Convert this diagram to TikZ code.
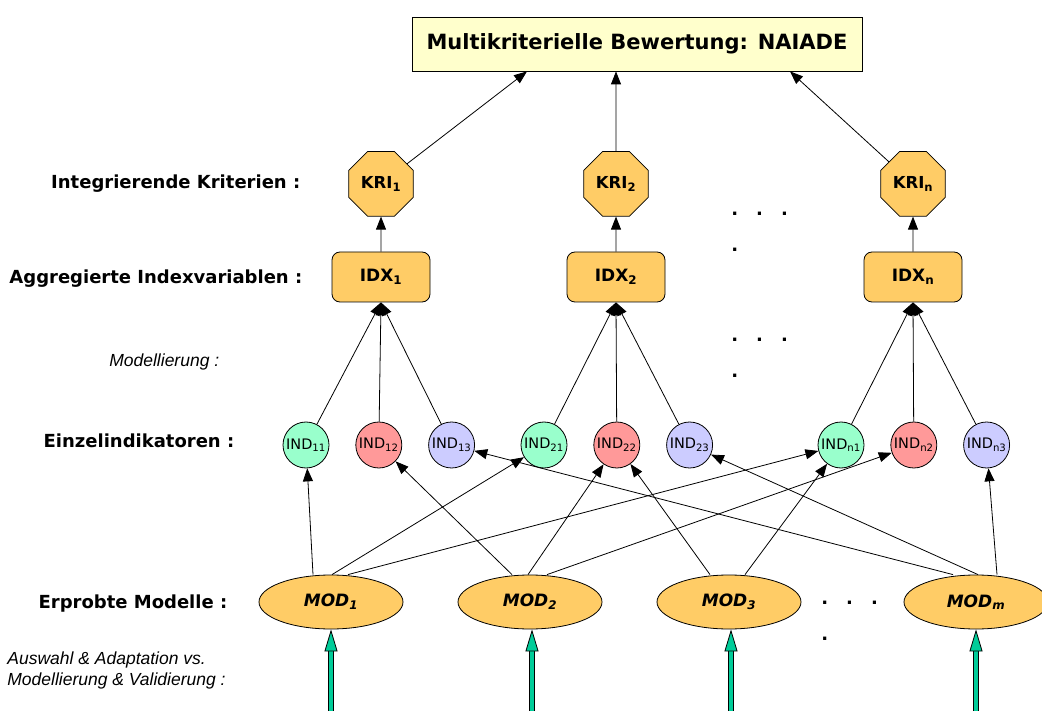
\documentclass[tikz,border=0pt]{standalone}
\usepackage{fontspec}
\setmainfont{DejaVu Sans}
\newfontfamily\notefont{Liberation Sans}
\usetikzlibrary{positioning,shapes.geometric,arrows.meta}

\definecolor{boxorange}{HTML}{FFCC66}
\definecolor{paleyellow}{HTML}{FFFFCC}
\definecolor{indgreen}{HTML}{99FFCC}
\definecolor{indred}{HTML}{FF9999}
\definecolor{indblue}{HTML}{CCCCFF}
\definecolor{feedgreen}{HTML}{00CC99}

\tikzset{
  >={Triangle[length=13pt,width=10pt]},
  topbox/.style={draw, fill=paleyellow, minimum width=450pt, minimum height=54pt, font=\bfseries\fontsize{21}{25}\selectfont},
  kri/.style={draw, fill=boxorange, regular polygon, regular polygon sides=8, minimum size=70pt, inner sep=0pt, font=\bfseries\fontsize{16.5}{19}\selectfont},
  idx/.style={draw, fill=boxorange, rounded corners=8pt, minimum width=98pt, minimum height=50pt, font=\bfseries\fontsize{17}{20}\selectfont},
  ind/.style={draw, circle, minimum size=46pt, inner sep=0pt, font=\fontsize{14.5}{16}\selectfont},
  mod/.style={draw, fill=boxorange, ellipse, minimum width=144pt, minimum height=54pt, font=\bfseries\itshape\fontsize{17}{20}\selectfont},
  level/.style={anchor=east, font=\bfseries\fontsize{18}{21}\selectfont},
  note/.style={font=\notefont\itshape\fontsize{17.5}{21}\selectfont},
  dots/.style={anchor=north west, align=left, inner sep=0pt, font=\bfseries\fontsize{18}{36}\selectfont},
  feed/.style={line width=3.6pt, draw=feedgreen, -{Triangle[length=22pt,width=13pt,color=black,fill=feedgreen,line width=0.8pt]},
    preaction={draw=black, line width=5.6pt, shorten >=21pt, arrows=-}}
}

\begin{document}
\begin{tikzpicture}[x=1pt, y=-1pt, line width=0.8pt]
    \useasboundingbox (0,0) rectangle (1042,711);

    % Nodes

    \node[topbox] (naiade) at (637,44) {Multikriterielle Bewertung: NAIADE};

    \node[idx] (idx1) at (381,277) {IDX\textsubscript{1}};
    \node[idx] (idx2) at (616,277) {IDX\textsubscript{2}};
    \node[idx] (idxn) at (913,277) {IDX\textsubscript{n}};
    \node[kri, above=35pt of idx1] (kri1) {KRI\textsubscript{1}};
    \node[kri, above=35pt of idx2] (kri2) {KRI\textsubscript{2}};
    \node[kri, above=35pt of idxn] (krin) {KRI\textsubscript{n}};

    \node[ind, fill=indgreen] (ind11) at (306,445) {IND\textsubscript{11}};
    \node[ind, fill=indred, right=26pt of ind11] (ind12) {IND\textsubscript{12}};
    \node[ind, fill=indblue, right=26pt of ind12] (ind13) {IND\textsubscript{13}};
    \node[ind, fill=indgreen] (ind21) at (544,445) {IND\textsubscript{21}};
    \node[ind, fill=indred, right=26pt of ind21] (ind22) {IND\textsubscript{22}};
    \node[ind, fill=indblue, right=26pt of ind22] (ind23) {IND\textsubscript{23}};
    \node[ind, fill=indgreen] (indn1) at (841,445) {IND\textsubscript{n1}};
    \node[ind, fill=indred, right=26pt of indn1] (indn2) {IND\textsubscript{n2}};
    \node[ind, fill=indblue, right=26pt of indn2] (indn3) {IND\textsubscript{n3}};

    \node[mod] (mod1) at (331,602) {MOD\textsubscript{1}};
    \node[mod] (mod2) at (530,602) {MOD\textsubscript{2}};
    \node[mod] (mod3) at (729,602) {MOD\textsubscript{3}};
    \node[mod] (modm) at (976,602) {MOD\textsubscript{m}};

    \node[dots] (dots1) at (731,212) {.\hspace{18pt}.\hspace{18pt}.\\.};
    \node[dots] (dots2) at (731,338) {.\hspace{18pt}.\hspace{18pt}.\\.};
    \node[dots] (dots3) at (821,601) {.\hspace{18pt}.\hspace{18pt}.\\.};

    % Level labels

    \node[level] (lkri) at (304,184) {Integrierende Kriterien :};
    \node[level] (lidx) at (306,279) {Aggregierte Indexvariablen :};
    \node[note, anchor=east] (lmodel) at (223,362) {Modellierung :};
    \node[level] (lind) at (238,441) {Einzelindikatoren :};
    \node[level] (lmod) at (231,604) {Erprobte Modelle :};
    \node[note, anchor=north west, align=left, inner sep=0pt] (lfeed) at (7,651)
        {Auswahl \& Adaptation vs.\\Modellierung \& Validierung :};

    % Edges

    \draw[->] (kri1) -- ([xshift=-110pt]naiade.south);
    \draw[->] (kri2) -- (kri2 |- naiade.south);
    \draw[->] (krin) -- ([xshift=153pt]naiade.south);

    \draw[->] (idx1) -- (kri1);
    \draw[->] (idx2) -- (kri2);
    \draw[->] (idxn) -- (krin);

    \draw[->] (ind11) -- (idx1.south);
    \draw[->] (ind12) -- (idx1.south);
    \draw[->] (ind13) -- (idx1.south);
    \draw[->] (ind21) -- (idx2.south);
    \draw[->] (ind22) -- (idx2.south);
    \draw[->] (ind23) -- (idx2.south);
    \draw[->] (indn1) -- (idxn.south);
    \draw[->] (indn2) -- (idxn.south);
    \draw[->] (indn3) -- (idxn.south);

    \draw[->] ([xshift=-18pt]mod1.north) -- (ind11);
    \draw[->] ([xshift=1pt]mod1.north) -- (ind21);
    \draw[->] ([xshift=17pt]mod1.north) -- (indn1);
    \draw[->] ([xshift=-18pt]mod2.north) -- (ind12);
    \draw[->] ([xshift=-2pt]mod2.north) -- (ind22);
    \draw[->] ([xshift=17pt]mod2.north) -- (indn2);
    \draw[->] ([xshift=-19pt]mod3.north) -- (ind22);
    \draw[->] ([xshift=16pt]mod3.north) -- (indn1);
    \draw[->] ([xshift=-23pt]modm.north) -- (ind13);
    \draw[->] ([xshift=2pt]modm.north) -- (ind23);
    \draw[->] ([xshift=21pt]modm.north) -- (indn3);

    % Inputs from below

    \coordinate (in1) at (331,711);
    \coordinate (in2) at (532,711);
    \coordinate (in3) at (731,711);
    \coordinate (inm) at (976,711);
    \draw[feed] (in1) -- (mod1.south);
    \draw[feed] (in2) -- (in2 |- mod2.south);
    \draw[feed] (in3) -- (in3 |- mod3.south);
    \draw[feed] (inm) -- (modm.south);

\end{tikzpicture}
\end{document}
